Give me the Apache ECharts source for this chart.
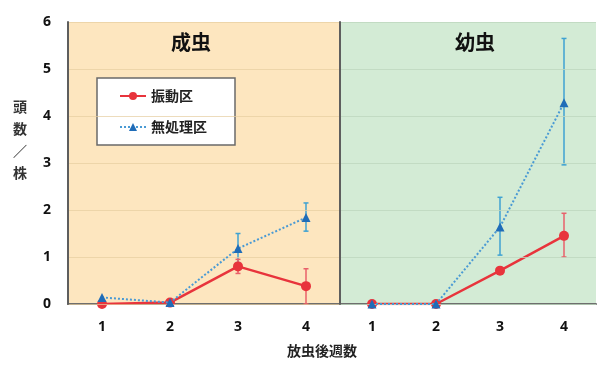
<!DOCTYPE html>
<html>
<head>
<meta charset="utf-8">
<script src="https://cdn.jsdelivr.net/npm/echarts@6/dist/echarts.min.js"></script>
<style>
  html, body { margin: 0; padding: 0; background: #fff; }
  #main { width: 598px; height: 367px; }
</style>
</head>
<body>
<div id="main"></div>
<script>
var weeks = ['1', '2', '3', '4'];
var panelNames = ['成虫', '幼虫'];
var seriesNames = ['振動区', '無処理区'];

// 成虫 (adults)
var adultVib = [0, 0.03, 0.8, 0.38];
var adultVibErr = [[2, 0.65, 0.95], [3, 0, 0.75]];
var adultCtl = [0.14, 0.03, 1.18, 1.84];
var adultCtlErr = [[2, 0.88, 1.5], [3, 1.55, 2.15]];

// 幼虫 (larvae)
var larvaVib = [0, 0, 0.71, 1.45];
var larvaVibErr = [[3, 1.0, 1.93]];
var larvaCtl = [0, 0, 1.64, 4.28];
var larvaCtlErr = [[2, 1.04, 2.27], [3, 2.96, 5.65]];

var red = '#e8343c';
var blueLine = '#4a9ad4';
var blueMark = '#1f6cb8';
var errRed = '#e8606a';
var errBlue = '#3fa2d2';

var myChart = echarts.init(document.getElementById('main'));

function errBar(color) {
    return function (params, api) {
        var x = api.value(0);
        var lo = api.coord([x, api.value(1)]);
        var hi = api.coord([x, api.value(2)]);
        var w = 2.5;
        var st = { stroke: color, lineWidth: 1.5 };
        return {
            type: 'group',
            children: [
                { type: 'line', shape: { x1: lo[0], y1: lo[1], x2: hi[0], y2: hi[1] }, style: st },
                { type: 'line', shape: { x1: lo[0] - w, y1: lo[1], x2: lo[0] + w, y2: lo[1] }, style: st },
                { type: 'line', shape: { x1: hi[0] - w, y1: hi[1], x2: hi[0] + w, y2: hi[1] }, style: st }
            ]
        };
    };
}

function xAx(i) {
    return {
        type: 'category', gridIndex: i, data: weeks,
        axisLine: { lineStyle: { color: '#6e6e6e', width: 2 } },
        axisTick: { show: false },
        axisLabel: { color: '#111', fontWeight: 'bold', fontSize: 14, margin: 16, fontFamily: 'Noto Sans' }
    };
}

function yAx(i) {
    return {
        type: 'value', gridIndex: i, min: 0, max: 6, interval: 1,
        axisLine: { show: true, lineStyle: { color: '#5e5e5e', width: 2 } },
        axisTick: { show: false },
        splitLine: { lineStyle: { color: i === 0 ? 'rgba(230,205,160,0.7)' : 'rgba(190,215,190,0.8)', width: 1 } },
        axisLabel: { show: i === 0, color: '#111', fontWeight: 'bold', fontSize: 14, margin: 17, fontFamily: 'Noto Sans' },
        z: 5
    };
}

function vibSeries(i, data) {
    return {
        name: seriesNames[0], type: 'line', xAxisIndex: i, yAxisIndex: i, data: data,
        symbol: 'circle', symbolSize: 10,
        lineStyle: { color: red, width: 2.5 },
        itemStyle: { color: red },
        z: 4
    };
}

function ctlSeries(i, data) {
    return {
        name: seriesNames[1], type: 'line', xAxisIndex: i, yAxisIndex: i, data: data,
        symbol: 'triangle', symbolSize: 9,
        lineStyle: { color: blueLine, width: 2, type: 'dotted' },
        itemStyle: { color: blueMark },
        z: 5
    };
}

function errSeries(i, data, color) {
    return {
        type: 'custom', xAxisIndex: i, yAxisIndex: i, data: data,
        renderItem: errBar(color), z: 3, silent: true
    };
}

var option = {
    animation: false,
    textStyle: { fontFamily: 'Noto Sans CJK JP' },
    grid: [
        { left: 68, top: 22, width: 272, height: 282, show: true, backgroundColor: '#fde6bf', borderWidth: 0 },
        { left: 340, top: 22, width: 256, height: 282, show: true, backgroundColor: '#d3ebd5', borderWidth: 0 }
    ],
    xAxis: [xAx(0), xAx(1)],
    yAxis: [yAx(0), yAx(1)],
    legend: {
        data: seriesNames,
        orient: 'vertical',
        left: 97, top: 78,
        backgroundColor: '#fff',
        borderColor: '#6a6a6a', borderWidth: 1.5,
        padding: [11, 28, 11, 22],
        itemGap: 17,
        itemWidth: 26, itemHeight: 10,
        textStyle: { color: '#222', fontWeight: 'bold', fontSize: 14, fontFamily: 'Noto Sans CJK JP' }
    },
    graphic: [
        { type: 'text', left: 171, top: 32, style: { text: panelNames[0], fontSize: 20, fontWeight: 'bold', fill: '#111', fontFamily: 'Noto Sans CJK JP' } },
        { type: 'text', left: 455, top: 32, style: { text: panelNames[1], fontSize: 20, fontWeight: 'bold', fill: '#111', fontFamily: 'Noto Sans CJK JP' } },
        { type: 'text', left: 287, top: 344, style: { text: '放虫後週数', fontSize: 14, fontWeight: 'bold', fill: '#222', fontFamily: 'Noto Sans CJK JP' } },
        { type: 'text', left: 13, top: 96, style: { text: '頭\n数\n／\n株', fontSize: 14, lineHeight: 22, fontWeight: 'bold', fill: '#333', fontFamily: 'Noto Sans CJK JP' } }
    ],
    series: [
        errSeries(0, adultCtlErr, errBlue),
        errSeries(0, adultVibErr, errRed),
        vibSeries(0, adultVib),
        ctlSeries(0, adultCtl),
        errSeries(1, larvaCtlErr, errBlue),
        errSeries(1, larvaVibErr, errRed),
        vibSeries(1, larvaVib),
        ctlSeries(1, larvaCtl)
    ]
};

myChart.setOption(option);
</script>
</body>
</html>
